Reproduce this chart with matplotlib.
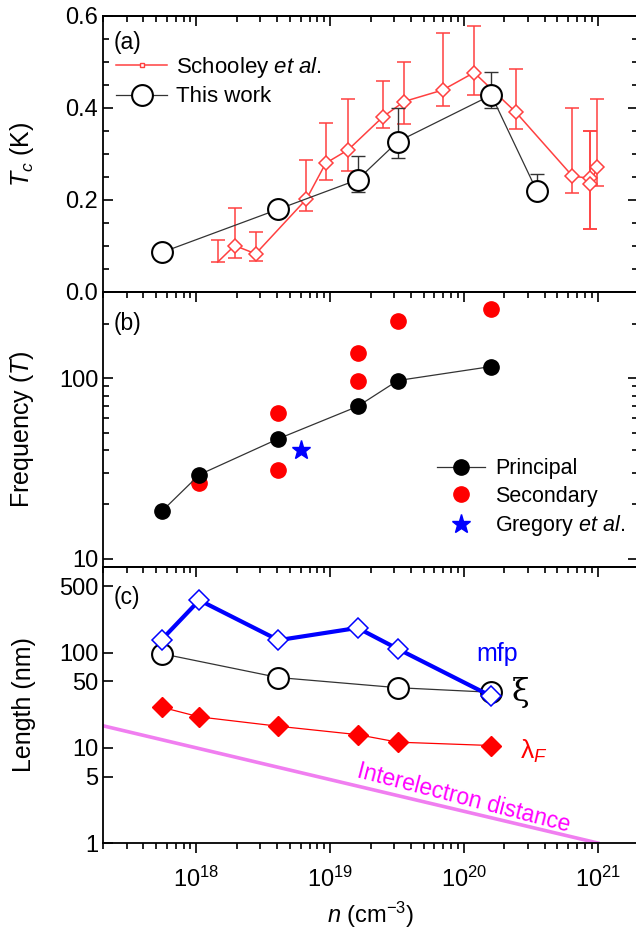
import numpy as np
import matplotlib
matplotlib.use('Agg')
import matplotlib.pyplot as plt
from matplotlib.lines import Line2D
from matplotlib.ticker import MultipleLocator, FixedLocator, FixedFormatter, NullLocator, NullFormatter, LogLocator, FormatStrFormatter

plt.rcParams['font.family'] = ['Liberation Sans', 'DejaVu Sans']
plt.rcParams['mathtext.fontset'] = 'custom'
plt.rcParams['mathtext.rm'] = 'Liberation Sans'
plt.rcParams['mathtext.it'] = 'Liberation Sans:italic'
plt.rcParams['axes.linewidth'] = 1.3

# ---- data ----
# (a) Tc vs n
n_this = [5.5e17, 4.1e18, 1.6e19, 3.2e19, 1.6e20, 3.5e20]
tc_this = [0.086, 0.180, 0.244, 0.327, 0.428, 0.220]
tc_this_lo = [0.077, 0.164, 0.218, 0.291, 0.399, 0.220]
tc_this_hi = [0.086, 0.180, 0.296, 0.401, 0.478, 0.256]

n_sch = [1.44e18, 1.93e18, 2.77e18, 6.64e18, 9.25e18, 1.36e19, 2.46e19, 3.56e19,
         6.92e19, 1.19e20, 2.44e20, 6.47e20, 8.8e20, 8.8e20, 9.9e20]
tc_sch = [0.065, 0.101, 0.083, 0.202, 0.280, 0.309, 0.380, 0.414,
          0.439, 0.477, 0.391, 0.252, 0.247, 0.235, 0.272]
tc_sch_lo = [0.065, 0.073, 0.067, 0.177, 0.243, 0.262, 0.356, 0.365,
             0.404, 0.428, 0.354, 0.215, 0.137, 0.137, 0.230]
tc_sch_hi = [0.113, 0.183, 0.130, 0.288, 0.368, 0.420, 0.459, 0.501,
             0.562, 0.579, 0.485, 0.399, 0.351, 0.351, 0.420]

# (b) quantum oscillation frequency
n_prin = [5.5e17, 1.05e18, 4.1e18, 1.6e19, 3.2e19, 1.6e20]
f_prin = [18.3, 29.2, 46.2, 69.7, 97, 116]
n_sec = [1.05e18, 4.1e18, 4.1e18, 1.6e19, 1.6e19, 3.2e19, 1.6e20]
f_sec = [26.3, 64.1, 31.1, 138, 97, 208, 240]
n_greg = [6.0e18]
f_greg = [39.8]

# (c) length scales
n_mfp = [5.5e17, 1.05e18, 4.1e18, 1.6e19, 3.2e19, 1.6e20]
mfp = [138, 358, 136, 183, 110, 35]
n_xi = [5.5e17, 4.1e18, 3.2e19, 1.6e20]
xi = [98, 55, 43, 38.5]
n_lf = [5.5e17, 1.05e18, 4.1e18, 1.6e19, 3.2e19, 1.6e20]
lam_f = [26.8, 21.2, 16.9, 13.8, 11.5, 10.6]
n_int = [2e17, 1e21]
d_int = [17.1, 1.0]

# ---- figure ----
fig = plt.figure(figsize=(6.36, 9.34), dpi=100)
x0, w = 103 / 636, 535 / 636
ax_a = fig.add_axes([x0, 1 - 292 / 934, w, 276 / 934])
ax_b = fig.add_axes([x0, 1 - 567 / 934, w, 275 / 934])
ax_c = fig.add_axes([x0, 1 - 843 / 934, w, 276 / 934])

for ax in (ax_a, ax_b, ax_c):
    ax.set_xscale('log')
    ax.set_xlim(2e17, 2e21)
    ax.xaxis.set_major_locator(LogLocator(base=10, numticks=10))
    ax.xaxis.set_minor_locator(LogLocator(base=10, subs=np.arange(2, 10), numticks=20))
    ax.tick_params(axis='x', which='both', direction='out', top=False, width=1.2)
    ax.tick_params(axis='x', which='major', length=7, labelsize=17, pad=10)
    ax.tick_params(axis='x', which='minor', length=4)
    ax.tick_params(axis='y', which='both', direction='in', left=True, right=True, width=1.2)
    ax.tick_params(axis='y', which='major', length=7, labelsize=17)
    ax.tick_params(axis='y', which='minor', length=4.5)
    sec = ax.secondary_xaxis('top')
    sec.xaxis.set_major_locator(LogLocator(base=10, numticks=10))
    sec.xaxis.set_minor_locator(LogLocator(base=10, subs=np.arange(2, 10), numticks=20))
    sec.tick_params(axis='x', which='both', direction='in', labeltop=False, width=1.2)
    sec.tick_params(axis='x', which='major', length=7)
    sec.tick_params(axis='x', which='minor', length=4)
    sec.xaxis.set_minor_formatter(NullFormatter())
    ax.yaxis.set_label_coords(-0.125, 0.5)

ax_a.tick_params(axis='x', which='both', labelbottom=False)
ax_b.tick_params(axis='x', which='both', labelbottom=False)

# ---- (a) ----
red_eb = '#ff4040'
tc_sch_a = np.array(tc_sch)
yerr_s = [tc_sch_a - np.array(tc_sch_lo), np.array(tc_sch_hi) - tc_sch_a]
ax_a.errorbar(n_sch, tc_sch, yerr=yerr_s, fmt='none', ecolor=red_eb, elinewidth=1.1,
              capsize=5, capthick=1.1, zorder=2)
ax_a.plot(n_sch, tc_sch, '-', color=red_eb, lw=1.1, marker='D', ms=6.8, mfc='white',
          mec=red_eb, mew=1.1, markevery=list(range(1, len(n_sch))), zorder=3)

tc_this_a = np.array(tc_this)
yerr_t = [tc_this_a - np.array(tc_this_lo), np.array(tc_this_hi) - tc_this_a]
ax_a.errorbar(n_this, tc_this, yerr=yerr_t, fmt='none', ecolor='#333333', elinewidth=1.0,
              capsize=5, capthick=1.0, zorder=4)
ax_a.plot(n_this, tc_this, '-', color='#333333', lw=0.9, marker='o', ms=15, mfc='white',
          mec='black', mew=1.5, zorder=5)

ax_a.set_ylim(0, 0.6)
ax_a.yaxis.set_major_locator(MultipleLocator(0.2))
ax_a.yaxis.set_minor_locator(MultipleLocator(0.05))
ax_a.yaxis.set_major_formatter(FormatStrFormatter('%.1f'))
ax_a.set_ylabel(r'$T_c$ (K)', fontsize=18)
ax_a.text(0.019, 0.905, '(a)', transform=ax_a.transAxes, fontsize=16.5, ha='left', va='center')

h_sch = Line2D([], [], color=red_eb, lw=1.1, marker='s', ms=3.5, mfc='white', mec=red_eb, mew=1)
h_this = Line2D([], [], color='#333333', lw=0.9, marker='o', ms=15, mfc='white', mec='black', mew=1.5)
ax_a.legend([h_sch, h_this], [r'Schooley $et\ al.$', 'This work'], loc='upper left',
            bbox_to_anchor=(0.025, 0.86), frameon=False, fontsize=16, handlelength=2.3,
            handletextpad=0.4, borderpad=0, borderaxespad=0, labelspacing=0.3)

# ---- (b) ----
ax_b.plot(n_prin, f_prin, '-', color='#333333', lw=0.9, marker='o', ms=11, mfc='black',
          mec='black', zorder=4, label='Principal')
ax_b.plot(n_sec, f_sec, 'o', color='red', ms=11, mec='red', zorder=3, label='Secondary')
ax_b.plot(n_greg, f_greg, '*', color='blue', ms=14, mec='blue', zorder=3, label=r'Gregory $et\ al.$')
ax_b.set_yscale('log')
ax_b.set_ylim(9, 300)
ax_b.yaxis.set_major_locator(FixedLocator([10, 100]))
ax_b.yaxis.set_major_formatter(FixedFormatter(['10', '100']))
ax_b.yaxis.set_minor_locator(LogLocator(base=10, subs=np.arange(2, 10), numticks=20))
ax_b.yaxis.set_minor_formatter(NullFormatter())
ax_b.set_ylabel(r'Frequency ($T$)', fontsize=18)
ax_b.text(0.019, 0.887, '(b)', transform=ax_b.transAxes, fontsize=16.5, ha='left', va='center')
ax_b.legend(loc='upper left', bbox_to_anchor=(0.625, 0.395), frameon=False, fontsize=15.5,
            handlelength=2.2, handletextpad=0.5, borderpad=0, borderaxespad=0, labelspacing=0.3)

# ---- (c) ----
ax_c.plot(n_int, d_int, '-', color='#f07ef0', lw=2.6, zorder=2)
ax_c.plot(n_lf, lam_f, '-', color='red', lw=0.9, marker='D', ms=10.5, mfc='red', mec='red', zorder=3)
ax_c.plot(n_xi, xi, '-', color='#333333', lw=0.9, marker='o', ms=15, mfc='white', mec='black',
          mew=1.5, zorder=4)
ax_c.plot(n_mfp, mfp, '-', color='blue', lw=3, marker='D', ms=10.5, mfc='white', mec='blue',
          mew=1.1, zorder=5)
ax_c.set_yscale('log')
ax_c.set_ylim(1, 800)
ax_c.yaxis.set_major_locator(FixedLocator([1, 5, 10, 50, 100, 500]))
ax_c.yaxis.set_major_formatter(FixedFormatter(['1', '5', '10', '50', '100', '500']))
ax_c.yaxis.set_minor_locator(NullLocator())
ax_c.tick_params(axis='y', which='both', right=False)
ax_c.set_ylabel('Length (nm)', fontsize=18)
ax_c.set_xlabel(r'$n$ (cm$^{-3}$)', fontsize=17, labelpad=6)
ax_c.text(0.019, 0.89, '(c)', transform=ax_c.transAxes, fontsize=16.5, ha='left', va='center')

ax_c.text(1.76e20, 98, 'mfp', color='blue', fontsize=18, ha='center', va='center')
ax_c.text(2.63e20, 38, 'ξ', color='black', fontsize=23, ha='center', va='center',
          family=['DejaVu Serif'])
ax_c.text(3.3e20, 9.2, r'λ$_{F}$', color='red', fontsize=19, ha='center', va='center')
ax_c.text(1.0e20, 2.95, 'Interelectron distance', color='magenta', fontsize=16.5,
          ha='center', va='center', rotation=-14.5)

fig.savefig('out.png', dpi=100)
